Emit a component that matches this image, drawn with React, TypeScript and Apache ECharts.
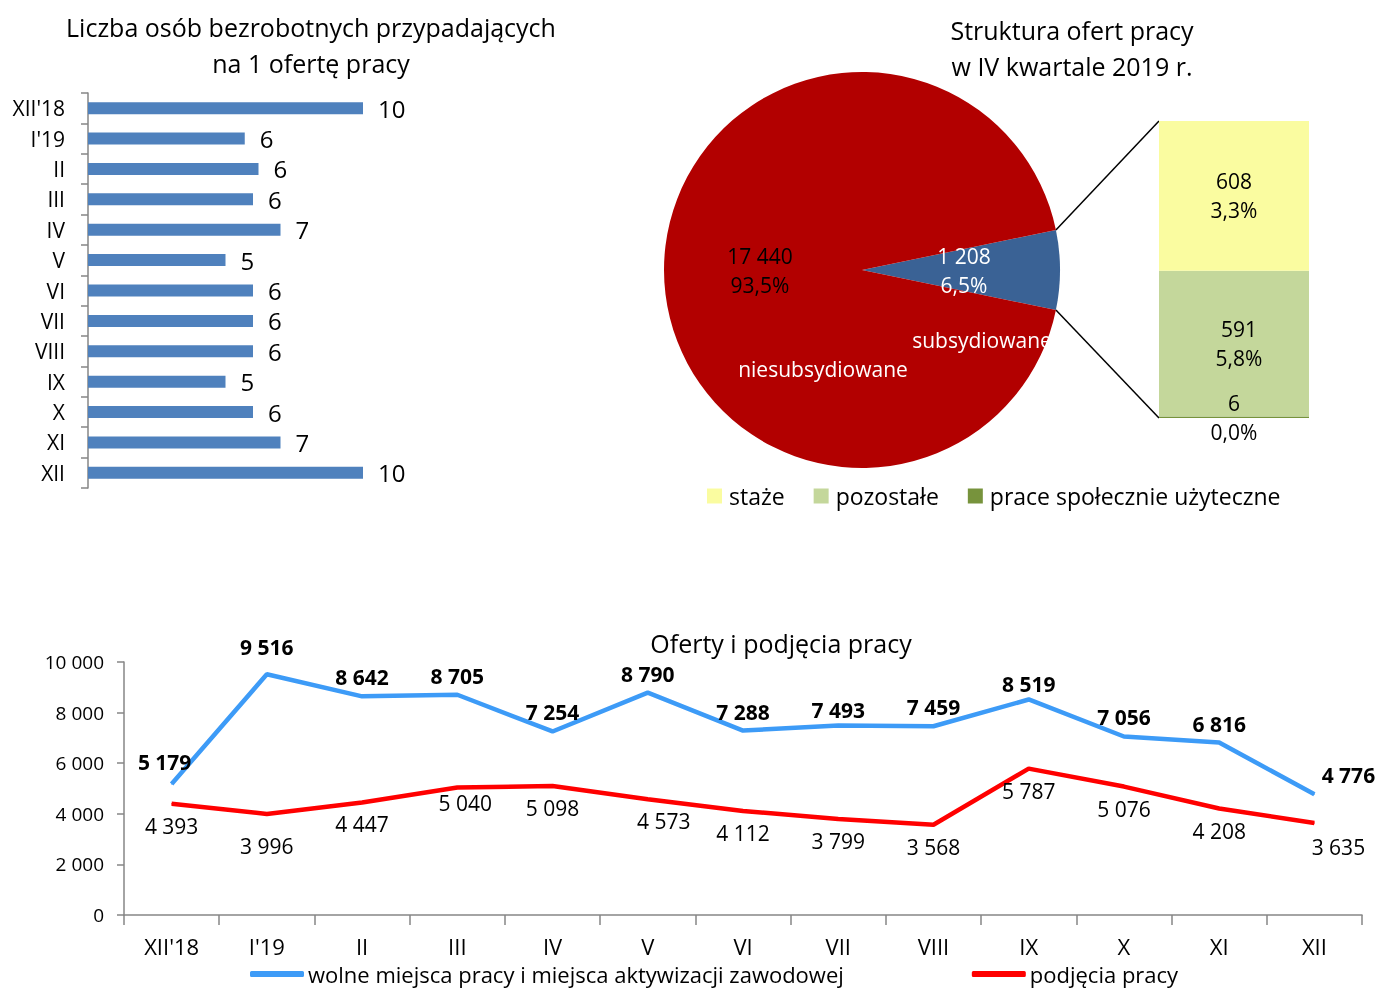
import React, { useEffect, useRef } from 'react';
import * as echarts from 'echarts';

const months = ["XII'18", "I'19", 'II', 'III', 'IV', 'V', 'VI', 'VII', 'VIII', 'IX', 'X', 'XI', 'XII'];
const unemployedPerOffer = [10, 5.7, 6.2, 6.0, 7.0, 5.0, 6.0, 6.0, 6.0, 5.0, 6.0, 7.0, 10];
const offers = [5179, 9516, 8642, 8705, 7254, 8790, 7288, 7493, 7459, 8519, 7056, 6816, 4776];
const hires = [4393, 3996, 4447, 5040, 5098, 4573, 4112, 3799, 3568, 5787, 5076, 4208, 3635];
const pieNames = ['subsydiowane', 'niesubsydiowane'];
const pieValues = [1208, 17440];
const stackNames = ['staże', 'pozostałe', 'prace społecznie użyteczne'];
const stackValues = [608, 591, 6];
const stackShares = ['3,3%', '5,8%', '0,0%'];
const lineNames = ['wolne miejsca pracy i miejsca aktywizacji zawodowej', 'podjęcia pracy'];
const yTicks = [0, 2000, 4000, 6000, 8000, 10000];

// layout only: per-point label nudges (px) for the line chart
const offerLabelShift: Record<number, number[]> = { 0: [-7, -3], 1: [0, -8], 7: [0, 4], 9: [0, 4], 12: [34, 0] };
const hireLabelShift: Record<number, number[]> = { 1: [0, 10], 3: [8, -6], 5: [16, 0], 12: [24, 2] };

const fmt = (n: number) => String(n).replace(/\B(?=(\d{3})+(?!\d))/g, ' ');

export default function App() {
  const ref = useRef<HTMLDivElement>(null);
  useEffect(() => {
    const chart = echarts.init(ref.current!, null, { renderer: 'svg' });
    const F = "'Open Sans', sans-serif";
    const AX = '#868686';
    const cx = 862, cy = 270, R = 198;
    const subShare = pieValues[0] / (pieValues[0] + pieValues[1]);
    const half = subShare * 180;
    const rad = (half * Math.PI) / 180;
    const p1 = [cx + R * Math.cos(rad), cy - R * Math.sin(rad)];
    const p2 = [cx + R * Math.cos(rad), cy + R * Math.sin(rad)];
    const sL = 1159, sT = 121, sH = 297, sW = 150;
    const stackColors = ['#FAFCA0', '#C4D79B', '#77933C'];
    const stackTotal = stackValues.reduce((a, b) => a + b, 0);
    const titleStyle = { fontFamily: F, fontSize: 25, fontWeight: 'normal', color: '#000', lineHeight: 36 };

    const withShift = (vals: number[], shifts: Record<number, number[]>) =>
      vals.map((v, i) => (shifts[i] ? { value: v, label: { offset: shifts[i] } } : v));

    const option: any = {
      animation: false,
      textStyle: { fontFamily: F },
      title: [
        {
          text: 'Liczba osób bezrobotnych przypadających\nna 1 ofertę pracy',
          left: 311, top: 9, textAlign: 'center', padding: 0, textStyle: titleStyle,
        },
        {
          text: 'Struktura ofert pracy\nw IV kwartale 2019 r.',
          left: 1072, top: 12, textAlign: 'center', padding: 0, textStyle: titleStyle,
        },
        {
          text: 'Oferty i podjęcia pracy',
          left: 781, top: 625, textAlign: 'center', padding: 0, textStyle: { ...titleStyle, lineHeight: 36 },
        },
      ],
      legend: [
        {
          data: stackNames, left: 702, top: 479, icon: 'rect', itemWidth: 15, itemHeight: 15, itemGap: 29,
          textStyle: { fontFamily: F, fontSize: 23, lineHeight: 24, color: '#000', padding: [0, 0, 0, 2] },
        },
        {
          data: lineNames, left: 245, top: 958, icon: 'roundRect', itemWidth: 54, itemHeight: 6, itemGap: 128,
          textStyle: { fontFamily: F, fontSize: 22, lineHeight: 22, color: '#000', padding: [0, 0, 0, -1] },
        },
      ],
      grid: [
        { left: 88, top: 93, width: 330, height: 395 },
        { left: sL, top: sT, width: sW, height: sH },
        { left: 124, top: 662, right: 16, bottom: 76 },
      ],
      xAxis: [
        { gridIndex: 0, type: 'value', min: 0, max: 12, show: false },
        { gridIndex: 1, type: 'category', data: ['IV kw.'], show: false },
        {
          gridIndex: 2, type: 'category', data: months, boundaryGap: true,
          axisLine: { lineStyle: { color: AX, width: 1.5 } },
          axisTick: { show: true, length: 10, lineStyle: { color: AX, width: 1.5 } },
          axisLabel: { fontFamily: F, fontSize: 22, lineHeight: 22, color: '#000', margin: 20 },
        },
      ],
      yAxis: [
        {
          gridIndex: 0, type: 'category', data: months, inverse: true,
          axisLine: { lineStyle: { color: AX, width: 1.5 } },
          axisTick: { show: true, length: 7, lineStyle: { color: AX, width: 1.5 } },
          axisLabel: { fontFamily: F, fontSize: 21, color: '#000', margin: 23 },
        },
        { gridIndex: 1, type: 'value', min: 0, max: stackTotal, show: false },
        {
          gridIndex: 2, type: 'value', min: 0, max: 10000, interval: 2000,
          axisLine: { show: true, lineStyle: { color: AX, width: 1.5 } },
          axisTick: { show: true, length: 7, lineStyle: { color: AX, width: 1.5 } },
          splitLine: { show: false },
          axisLabel: {
            fontFamily: F, fontSize: 19, color: '#000', margin: 20,
            formatter: (v: number) => (yTicks.includes(v) ? fmt(v) : ''),
          },
        },
      ],
      series: [
        {
          type: 'bar', xAxisIndex: 0, yAxisIndex: 0, data: unemployedPerOffer, barWidth: 12,
          itemStyle: { color: '#4F81BD' },
          label: {
            show: true, position: 'right', distance: 15, fontFamily: F, fontSize: 24, color: '#000',
            formatter: (p: any) => String(Math.round(p.value)),
          },
        },
        {
          type: 'pie', center: [cx, cy], radius: [0, R], startAngle: half, clockwise: true,
          data: pieNames.map((n, i) => ({
            name: n, value: pieValues[i],
            itemStyle: { color: i === 0 ? '#3A6295' : '#B20000' },
            label: { color: i === 0 ? '#fff' : '#000' },
          })),
          label: {
            show: true, position: 'inside', fontFamily: F, fontSize: 21, lineHeight: 29,
            formatter: (p: any) => fmt(p.value) + '\n' + p.percent.toFixed(1).replace('.', ',') + '%',
          },
          labelLine: { show: false },
          emphasis: { disabled: true },
        },
        ...[2, 1, 0].map((i) => ({
          type: 'bar', name: stackNames[i], xAxisIndex: 1, yAxisIndex: 1, stack: 's', barWidth: sW,
          data: [stackValues[i]],
          itemStyle: { color: stackColors[i] },
          label: {
            show: true, position: 'inside', fontFamily: F, fontSize: 21, lineHeight: 29, color: '#000',
            offset: i === 1 ? [5, 0] : [0, 0],
            formatter: (p: any) => fmt(p.value) + '\n' + stackShares[i],
          },
        })),
        {
          type: 'line', name: lineNames[0], xAxisIndex: 2, yAxisIndex: 2, data: withShift(offers, offerLabelShift),
          symbol: 'circle', symbolSize: 1,
          lineStyle: { color: '#3D9BF7', width: 4.5 }, itemStyle: { color: '#3D9BF7' },
          label: {
            show: true, position: 'top', distance: 8, fontFamily: F, fontSize: 21, fontWeight: 'bold', color: '#000',
            formatter: (p: any) => fmt(p.value),
          },
        },
        {
          type: 'line', name: lineNames[1], xAxisIndex: 2, yAxisIndex: 2, data: withShift(hires, hireLabelShift),
          symbol: 'circle', symbolSize: 1,
          lineStyle: { color: '#FF0000', width: 4.5 }, itemStyle: { color: '#FF0000' },
          label: {
            show: true, position: 'bottom', distance: 11, fontFamily: F, fontSize: 21, color: '#000',
            formatter: (p: any) => fmt(p.value),
          },
        },
      ],
      graphic: [
        { type: 'line', shape: { x1: p1[0], y1: p1[1], x2: sL, y2: sT }, style: { stroke: '#000', lineWidth: 1.5 } },
        { type: 'line', shape: { x1: p2[0], y1: p2[1], x2: sL, y2: sT + sH }, style: { stroke: '#000', lineWidth: 1.5 } },
        {
          type: 'text', x: 823, y: 369, z: 100,
          style: { text: pieNames[1], fill: '#fff', font: `21px ${F}`, textAlign: 'center', textVerticalAlign: 'middle' },
        },
        {
          type: 'text', x: 982, y: 340, z: 100,
          style: { text: pieNames[0], fill: '#fff', font: `21px ${F}`, textAlign: 'center', textVerticalAlign: 'middle' },
        },
      ],
    };
    chart.setOption(option);
    return () => chart.dispose();
  }, []);
  return <div ref={ref} style={{ position: 'fixed', left: 0, top: 0, width: 1378, height: 991 }} />;
}
